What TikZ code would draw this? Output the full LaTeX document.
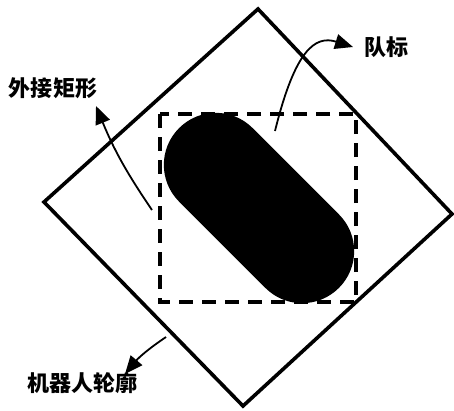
\documentclass[tikz,border=0pt]{standalone}
\usepackage{fontspec}
\newfontfamily\cjk{Noto Sans CJK SC}
\usetikzlibrary{arrows.meta,positioning}

\begin{document}
\begin{tikzpicture}[
  x=1pt, y=-1pt,
  lbl/.style={font=\cjk\bfseries\fontsize{22}{22}\selectfont, inner sep=0pt},
  arr/.style={line width=1.8pt, -{Triangle[length=18pt, width=15pt]}},
  outline/.style={line width=3.6pt, line join=miter},
  bbox/.style={line width=3.4pt, dash pattern=on 14pt off 9pt}
]
  \useasboundingbox (0,0) rectangle (454,410);

  % robot outline and bounding rectangle
  \draw[outline] (258,9) -- (452,214) -- (243,406) -- (44,202) -- cycle;
  \begin{scope}[shift={(259,208)}, rotate=-45]
    \fill[rounded corners=51.9pt] (-113,-52) rectangle (113,52);
  \end{scope}
  \draw[bbox] (160,114) rectangle (356,302);

  % labels
  \node[lbl] (rectlbl) at (53,88) {外接矩形};
  \node[lbl] (teamlbl) at (386,47) {队标};
  \node[lbl] (robotlbl) at (82,383) {机器人轮廓};

  \coordinate (rectpt) at (152,210);
  \coordinate (recttip) at (96,106);
  \coordinate (teampt) at (275,131);
  \coordinate (teamtip) at (353,47);
  \coordinate (robotpt) at (166,337);
  \coordinate (robottip) at (125,374);

  \draw[arr] (rectpt) to[bend left=6] (recttip);
  \draw[arr] (teampt) .. controls (295,50) and (315,35) .. (teamtip);
  \draw[arr] (robotpt) to[bend right=8] (robottip);
\end{tikzpicture}
\end{document}
